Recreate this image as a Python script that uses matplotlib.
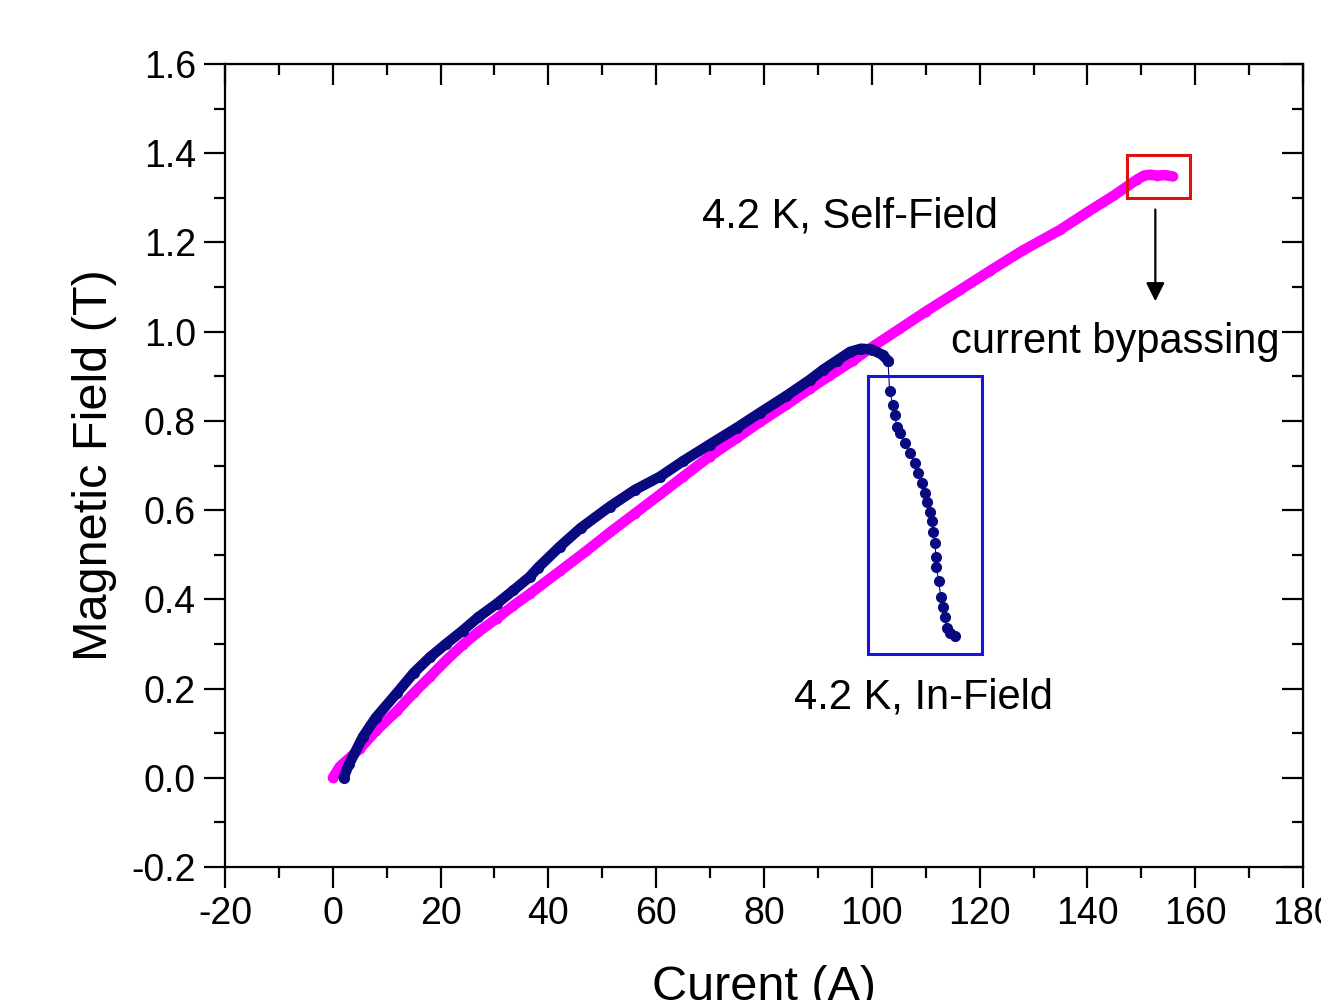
import matplotlib.pyplot as plt
from matplotlib.patches import Rectangle
from matplotlib.ticker import MultipleLocator

plt.rcParams['font.family'] = ['Liberation Sans', 'DejaVu Sans']

# 4.2 K, Self-Field (magenta)
self_current = [0, 1.3, 5, 8, 11.9, 15, 18, 21, 24.1, 27, 30.4, 33.5, 36.5, 42.1, 47,
                51.4, 56, 60.7, 65, 69.9, 75, 79.2, 84, 88.5, 92, 96.5, 99.6, 105, 110,
                116.3, 122, 128, 134.9, 140, 145, 149.2, 150.5, 151.6, 153, 154.5, 155.8]
self_field = [0, 0.025, 0.065, 0.105, 0.15, 0.19, 0.226, 0.263, 0.298, 0.327, 0.357, 0.386,
              0.412, 0.463, 0.508, 0.55, 0.592, 0.635, 0.675, 0.72, 0.762, 0.797, 0.835,
              0.872, 0.9, 0.935, 0.962, 1.005, 1.045, 1.093, 1.137, 1.182, 1.228, 1.268,
              1.306, 1.341, 1.35, 1.352, 1.35, 1.351, 1.348]

# 4.2 K, In-Field (navy) - rising part
in_current = [2, 3, 5.6, 8, 11.9, 15, 18, 21, 24.1, 27, 30.4, 33.5, 36.5, 38, 42.1, 46,
              51.4, 56, 60.7, 65, 69.9, 75, 79.2, 84, 88.5, 91, 93.5, 96, 98, 100, 102, 103]
in_field = [0.0, 0.03, 0.092, 0.135, 0.19, 0.235, 0.27, 0.30, 0.33, 0.36, 0.39, 0.42,
            0.45, 0.47, 0.518, 0.56, 0.608, 0.645, 0.675, 0.71, 0.747, 0.785, 0.818,
            0.855, 0.892, 0.915, 0.935, 0.955, 0.962, 0.96, 0.948, 0.935]

# 4.2 K, In-Field (navy) - drop after quench
drop_current = [103, 103.3, 103.9, 104.3, 104.6, 105.2, 106.1, 107, 108, 108.5, 109.3,
                109.8, 110.2, 110.8, 111.1, 111.3, 111.7, 111.9, 112, 112.4, 112.8,
                113.2, 113.5, 113.9, 114.5, 115.4]
drop_field = [0.935, 0.868, 0.836, 0.814, 0.787, 0.773, 0.751, 0.729, 0.706, 0.684,
              0.661, 0.639, 0.619, 0.596, 0.576, 0.552, 0.527, 0.496, 0.473, 0.44,
              0.406, 0.383, 0.361, 0.336, 0.325, 0.318]

MAGENTA = '#FF00FF'
NAVY = '#0A0A80'

fig = plt.figure(figsize=(13.21, 10), dpi=100)
ax = fig.add_axes([0.1703, 0.133, 0.8161, 0.803])

ax.plot(self_current, self_field, color=MAGENTA, lw=7.5, solid_capstyle='round',
        solid_joinstyle='round', marker='o', ms=6, zorder=2)
ax.plot(in_current, in_field, color=NAVY, lw=7.5, solid_capstyle='round',
        solid_joinstyle='round', marker='o', ms=7, zorder=3)
ax.plot(drop_current, drop_field, color=NAVY, lw=0.8, marker='o', ms=7, zorder=3)

# boxes and arrow
ax.add_patch(Rectangle((147.3, 1.30), 11.7, 0.095, fill=False, ec='#DD1111', lw=2.2, zorder=4))
ax.add_patch(Rectangle((99.3, 0.278), 21.1, 0.623, fill=False, ec='#1414E0', lw=2.2, zorder=4))
ax.annotate('', xy=(152.6, 1.062), xytext=(152.6, 1.28),
            arrowprops=dict(arrowstyle='-|>', color='black', lw=1.6, mutation_scale=28))

ax.text(95.9, 1.258, '4.2 K, Self-Field', fontsize=30, ha='center', va='center')
ax.text(145.2, 0.977, 'current bypassing', fontsize=30, ha='center', va='center')
ax.text(109.5, 0.18, '4.2 K, In-Field', fontsize=30, ha='center', va='center')

ax.set_xlim(-20, 180)
ax.set_ylim(-0.2, 1.6)
ax.xaxis.set_major_locator(MultipleLocator(20))
ax.xaxis.set_minor_locator(MultipleLocator(10))
ax.yaxis.set_major_locator(MultipleLocator(0.2))
ax.yaxis.set_minor_locator(MultipleLocator(0.1))
ax.set_xticklabels([f'{int(v)}' for v in ax.get_xticks()])
ax.set_yticklabels([f'{v:.1f}' for v in ax.get_yticks()])

for s in ax.spines.values():
    s.set_linewidth(1.6)
ax.tick_params(which='major', direction='out', length=15, width=1.6, labelsize=27, pad=6)
ax.tick_params(which='minor', direction='out', length=8, width=1.6)

# inward ticks on top and right
top = ax.secondary_xaxis('top')
top.xaxis.set_major_locator(MultipleLocator(20))
top.xaxis.set_minor_locator(MultipleLocator(10))
top.tick_params(which='major', direction='in', length=15, width=1.6, labeltop=False)
top.tick_params(which='minor', direction='in', length=8, width=1.6)
right = ax.secondary_yaxis('right')
right.yaxis.set_major_locator(MultipleLocator(0.2))
right.yaxis.set_minor_locator(MultipleLocator(0.1))
right.tick_params(which='major', direction='in', length=15, width=1.6, labelright=False)
right.tick_params(which='minor', direction='in', length=8, width=1.6)

ax.set_xlabel('Curent (A)', fontsize=35, labelpad=24)
ax.set_ylabel('Magnetic Field (T)', fontsize=35, labelpad=10)

fig.savefig('out.png', dpi=100)
